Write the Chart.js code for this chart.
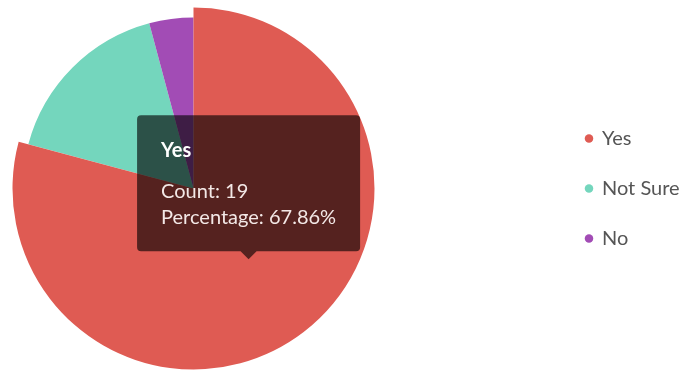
<!DOCTYPE html>
<html>
<head>
<meta charset="utf-8">
<title>Survey answers</title>
<script src="https://cdn.jsdelivr.net/npm/chart.js@4.4.0/dist/chart.umd.min.js"></script>
<style>
    html, body { margin: 0; padding: 0; background: #fff; }
    #wrap { width: 683px; height: 373px; }
</style>
</head>
<body>
<div id="wrap"><canvas id="answersPie"></canvas></div>
<script>
// answers to the question, plus how many people answered the survey in total
const answerLabels = ['Yes', 'Not Sure', 'No'];
const answerCounts = [19, 4, 1];
const totalResponses = 28;
const answerColors = ['#df5b53', '#74d6bd', '#a24cb5'];

// slice that is shown as hovered, with its tooltip open
const activeIndex = 0;
const popOut = 10;
// empty room between the pie and the legend
const legendGapWidth = 169;

Chart.defaults.font.family = 'Lato, sans-serif';

// hovered slice gets a bigger radius than the rest
const growActive = {
    id: 'growActive',
    afterDatasetsUpdate(chart) {
        const meta = chart.getDatasetMeta(0);
        meta.data[activeIndex].outerRadius = meta.controller.outerRadius + popOut;
    }
};

// blank layout box, pushes the legend away from the pie
const legendGap = {
    id: 'legendGap',
    beforeInit(chart) {
        Chart.layouts.addBox(chart, {
            position: 'right',
            weight: 0,
            fullSize: false,
            options: {},
            width: 0,
            height: 0,
            isHorizontal() { return false; },
            update(maxWidth, maxHeight) {
                this.width = legendGapWidth;
                this.height = maxHeight;
            },
            draw() {}
        });
    }
};

let ctx = document.getElementById('answersPie').getContext('2d');
const answersPie = new Chart(ctx, {
    type: 'pie',
    data: {
        labels: answerLabels,
        datasets: [{
            data: answerCounts,
            backgroundColor: answerColors,
            hoverBackgroundColor: answerColors,
            borderWidth: 0,
            hoverOffset: 0
        }]
    },
    options: {
        responsive: true,
        maintainAspectRatio: false,
        animation: false,
        radius: 171,
        layout: {
            padding: { left: 0, right: 0, top: 4, bottom: 0 }
        },
        plugins: {
            legend: {
                position: 'right',
                maxWidth: 127,
                labels: {
                    usePointStyle: true,
                    pointStyle: 'circle',
                    boxWidth: 6,
                    boxHeight: 6,
                    padding: 30,
                    color: '#555',
                    font: { size: 20 }
                }
            },
            tooltip: {
                backgroundColor: 'rgba(0, 0, 0, 0.62)',
                titleColor: '#fff',
                bodyColor: '#f3e8e6',
                titleFont: { size: 20, weight: 'bold' },
                bodyFont: { size: 20 },
                padding: { top: 23, bottom: 22, left: 24, right: 24 },
                titleMarginBottom: 17,
                bodySpacing: 2,
                cornerRadius: 4,
                caretSize: 8,
                caretPadding: 1,
                displayColors: false,
                xAlign: 'center',
                yAlign: 'bottom',
                callbacks: {
                    title: items => items[0].label,
                    label: item => [
                        'Count: ' + item.raw,
                        'Percentage: ' + (item.raw / totalResponses * 100).toFixed(2) + '%'
                    ]
                }
            }
        }
    },
    plugins: [growActive, legendGap]
});

const active = [{ datasetIndex: 0, index: activeIndex }];
answersPie.setActiveElements(active);
answersPie.tooltip.setActiveElements(active, { x: 0, y: 0 });
answersPie.update();
</script>
</body>
</html>
